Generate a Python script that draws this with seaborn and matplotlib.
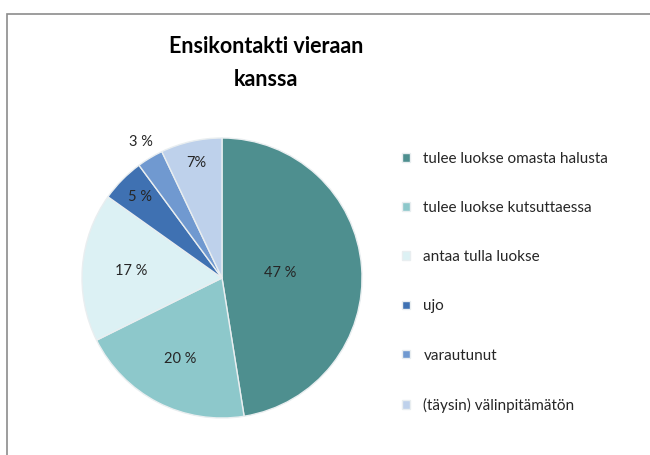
import numpy as np
import matplotlib
matplotlib.use("Agg")
import matplotlib.pyplot as plt
import seaborn as sns
from matplotlib.patches import Rectangle

# data
categories = ["tulee luokse omasta halusta", "tulee luokse kutsuttaessa",
              "antaa tulla luokse", "ujo", "varautunut", "(täysin) välinpitämätön"]
shares = [47, 20, 17, 5, 3, 7]
pct_labels = ["47 %", "20 %", "17 %", "5 %", "3 %", "7%"]
colors = ["#4E8F8F", "#8DC8CB", "#DCF1F4", "#3F71B2", "#7099D0", "#BED1EB"]
# radial position of each percent label (fraction of radius)
label_radius = [0.42, 0.65, 0.65, 0.82, 1.13, 0.84]

sns.set_theme(style="white")
plt.rcParams['font.family'] = ['Lato', 'DejaVu Sans']

fig = plt.figure(figsize=(6.5, 4.55), dpi=100)
W, H = 650, 455

# chart frame
fig.patches.append(Rectangle((7 / W, -0.05), 1.1, (H - 14) / H + 0.05,
                             transform=fig.transFigure, fill=False,
                             edgecolor="#8c8c8c", linewidth=1.2))

cx, cy, r = 222, 278, 140
ax = fig.add_axes([(cx - r) / W, (H - cy - r) / H, 2 * r / W, 2 * r / H])
pal = sns.color_palette(colors)
wedges, _ = ax.pie(shares, colors=pal, startangle=90, counterclock=False,
                   radius=1, wedgeprops=dict(edgecolor="#e9eef0", linewidth=1.0))
ax.set_xlim(-1, 1)
ax.set_ylim(-1, 1)
ax.set_aspect("equal")
ax.axis("off")

for w, lab, rr in zip(wedges, pct_labels, label_radius):
    ang = np.deg2rad((w.theta1 + w.theta2) / 2)
    ax.text(rr * np.cos(ang), rr * np.sin(ang), lab, ha="center", va="center",
            fontsize=10.5, color="#262626")

fig.text(266 / W, 1 - 63 / H, "Ensikontakti vieraan\nkanssa", ha="center", va="center",
         fontsize=15.5, fontweight="bold", color="black", linespacing=1.75)

fig.legend(wedges, categories, loc="upper left", bbox_to_anchor=(402 / W, 1 - 152 / H),
           frameon=False, fontsize=11, handlelength=0.5, handleheight=0.5,
           handletextpad=0.9, labelspacing=2.3, borderaxespad=0, borderpad=0)

fig.savefig("out.png", dpi=100)
